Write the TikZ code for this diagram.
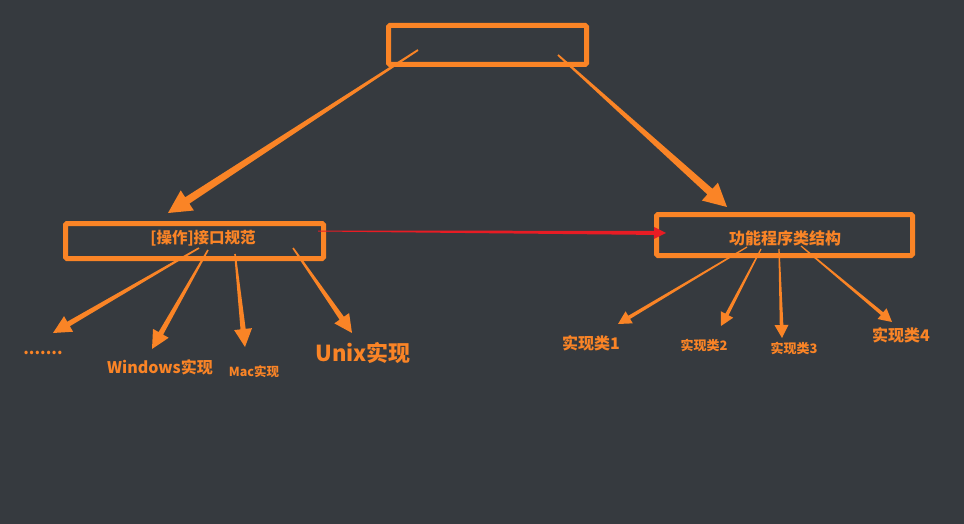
\documentclass[tikz,border=0pt]{standalone}
\usepackage{fontspec}
\setmainfont{Noto Sans CJK SC}
\usetikzlibrary{calc, positioning}

\definecolor{bg}{RGB}{54,58,63}
\definecolor{org}{RGB}{250,132,38}
\definecolor{redln}{RGB}{232,28,36}

% tapered arrow: colour, start, tip, start half width, end half width, head length, head half width
\newcommand{\taperarrow}[7]{%
  \coordinate (tb) at ($(#3)!#6!(#2)$);
  \fill[#1] ($(#2)!#4!90:(#3)$) -- ($(tb)!#5!-90:(#2)$) -- ($(tb)!#7!-90:(#2)$) -- (#3)
    -- ($(tb)!#7!90:(#2)$) -- ($(tb)!#5!90:(#2)$) -- ($(#2)!#4!-90:(#3)$) -- cycle;
}

\begin{document}
\begin{tikzpicture}[x=1pt, y=-1pt,
  box/.style={draw=org, line width=5pt, rounded corners=1.5pt, inner sep=0pt},
  lbl/.style={text=org, inner sep=0pt}]
\fill[bg] (0,0) rectangle (964,524);
\useasboundingbox (0,0) rectangle (964,524);

% Boxes
\node[box, minimum width=198pt, minimum height=39pt] (root) at (487.5,45) {};
\node[box, minimum width=258pt, minimum height=35pt] (iface) at (194.5,241) {};
\node[box, minimum width=256pt, minimum height=41pt] (func) at (784.5,235) {};

\node[lbl, font=\bfseries\fontsize{15.5}{17}\selectfont] (ifacetxt) at (203,238) {[操作]接口规范};
\node[lbl, font=\bfseries\fontsize{16}{18}\selectfont] (functxt) at (785,238) {功能程序类结构};

% Implementations
\node[lbl, font=\bfseries\fontsize{16}{18}\selectfont] (dots) at (43,353) {.......};
\node[lbl, font=\bfseries\fontsize{16}{18}\selectfont] (win) at (160,367) {Windows实现};
\node[lbl, font=\bfseries\fontsize{12.5}{14}\selectfont] (mac) at (254,372) {Mac实现};
\node[lbl, font=\bfseries\fontsize{22}{25}\selectfont] (unix) at (363,353) {Unix实现};

\node[lbl, font=\bfseries\fontsize{16}{18}\selectfont] (impl1) at (591,343) {实现类1};
\node[lbl, font=\bfseries\fontsize{13}{15}\selectfont] (impl2) at (704,345) {实现类2};
\node[lbl, font=\bfseries\fontsize{13}{15}\selectfont] (impl3) at (794,348) {实现类3};
\node[lbl, font=\bfseries\fontsize{16}{18}\selectfont] (impl4) at (901,335) {实现类4};

% Arrow ends
\coordinate (rootl) at (418,50);
\coordinate (rootr) at (558,55);
\coordinate (ifacein) at (666,233);
\coordinate (ifaceout) at (318,231);
\coordinate (ifacetop) at (168,213);
\coordinate (functop) at (727,207);
\coordinate (if1) at (199,248);
\coordinate (if2) at (208,250);
\coordinate (if3) at (235,254);
\coordinate (if4) at (293,248);
\coordinate (dotsend) at (53,333);
\coordinate (winend) at (152,349);
\coordinate (macend) at (245,347);
\coordinate (unixend) at (352,333);
\coordinate (fn1) at (747,247);
\coordinate (fn2) at (761,249);
\coordinate (fn3) at (779,249);
\coordinate (fn4) at (801,246);
\coordinate (im1end) at (618,324);
\coordinate (im2end) at (721,326);
\coordinate (im3end) at (782,338);
\coordinate (im4end) at (892,322);

% Arrows
\taperarrow{org}{rootl}{ifacetop}{0.9pt}{3.8pt}{23pt}{12pt}
\taperarrow{org}{rootr}{functop}{0.9pt}{3.8pt}{23pt}{12pt}
\taperarrow{redln}{ifaceout}{ifacein}{0.5pt}{2pt}{12pt}{6pt}

\taperarrow{org}{if1}{dotsend}{0.8pt}{2.6pt}{18pt}{9pt}
\taperarrow{org}{if2}{winend}{0.8pt}{2.6pt}{18pt}{9pt}
\taperarrow{org}{if3}{macend}{0.8pt}{2.6pt}{18pt}{9pt}
\taperarrow{org}{if4}{unixend}{0.8pt}{2.6pt}{18pt}{9pt}

\taperarrow{org}{fn1}{im1end}{0.6pt}{1.8pt}{13pt}{7pt}
\taperarrow{org}{fn2}{im2end}{0.6pt}{1.8pt}{13pt}{7pt}
\taperarrow{org}{fn3}{im3end}{0.6pt}{1.8pt}{13pt}{7pt}
\taperarrow{org}{fn4}{im4end}{0.6pt}{1.8pt}{13pt}{7pt}
\end{tikzpicture}
\end{document}
